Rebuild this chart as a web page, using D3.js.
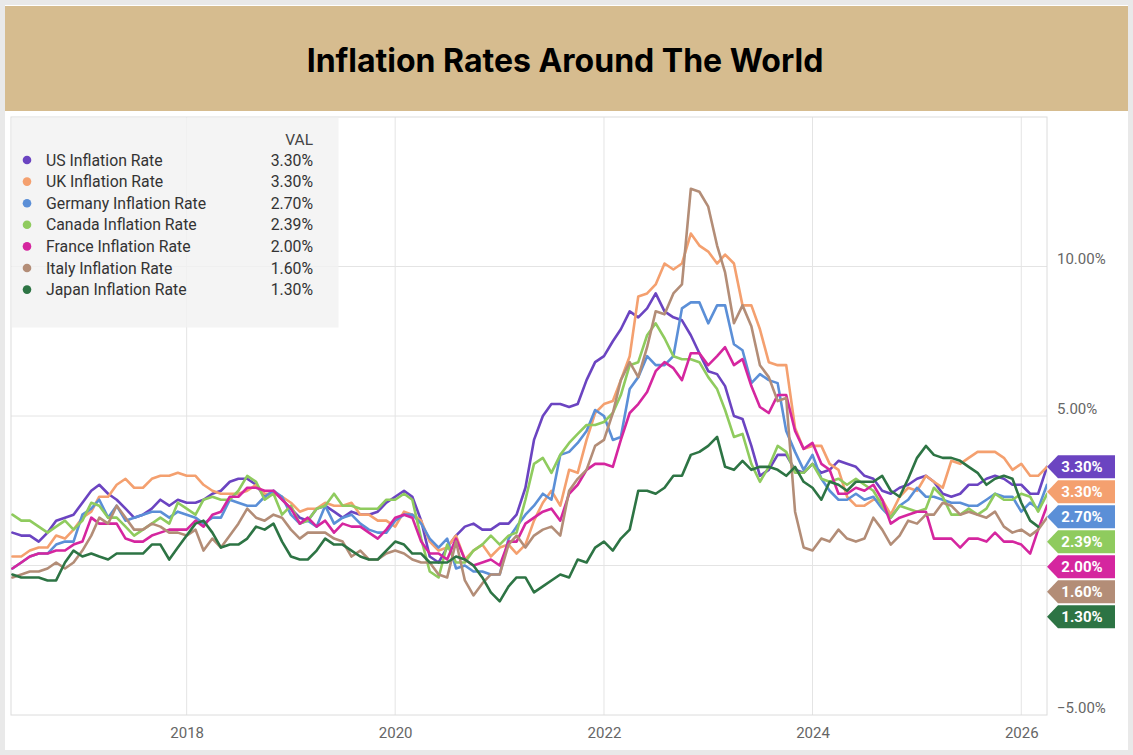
<!DOCTYPE html>
<html>
<head>
<meta charset="utf-8">
<script src="https://cdn.jsdelivr.net/npm/d3@7"></script>
<style>
  html, body { margin: 0; padding: 0; background: #fff; }
  svg { display: block; }
</style>
</head>
<body>
<svg id="chart" width="1133" height="755"></svg>
<script>
// ---------- DATA (monthly YoY %, Apr 2016 .. Mar 2026) ----------
const title = "Inflation Rates Around The World";
const startMonth = new Date(2016, 3, 1);
const endMonth = new Date(2026, 3, 1);
const seriesNames = ["US Inflation Rate", "UK Inflation Rate", "Germany Inflation Rate", "Canada Inflation Rate", "France Inflation Rate", "Italy Inflation Rate", "Japan Inflation Rate"];
const seriesColors = ["#6b44c1", "#f4a06f", "#5b8fd7", "#8fcb5e", "#d5269f", "#b38d77", "#2d7444"];
const xTickYears = [2018, 2020, 2022, 2024, 2026];
const yTickValues = [10, 5, -5];

const usValues = [
  1.1, 1.0, 1.0, 0.8, 1.1, 1.5, 1.6, 1.7, 2.1,
  2.5, 2.7, 2.4, 2.2, 1.9, 1.6, 1.7, 1.9, 2.2, 2.0, 2.2, 2.1,
  2.1, 2.2, 2.4, 2.5, 2.8, 2.9, 2.9, 2.7, 2.3, 2.5, 2.2, 1.9,
  1.6, 1.5, 1.9, 2.0, 1.8, 1.6, 1.8, 1.7, 1.7, 1.8, 2.1, 2.3,
  2.5, 2.3, 1.5, 0.3, 0.1, 0.6, 1.0, 1.3, 1.4, 1.2, 1.2, 1.4,
  1.4, 1.7, 2.6, 4.2, 5.0, 5.4, 5.4, 5.3, 5.4, 6.2, 6.8, 7.0,
  7.5, 7.9, 8.5, 8.3, 8.6, 9.1, 8.5, 8.3, 8.2, 7.7, 7.1, 6.5,
  6.4, 6.0, 5.0, 4.9, 4.0, 3.0, 3.2, 3.7, 3.7, 3.2, 3.1, 3.4,
  3.1, 3.2, 3.5, 3.4, 3.3, 3.0, 2.9, 2.5, 2.4, 2.6, 2.7, 2.9,
  3.0, 2.8, 2.4, 2.3, 2.4, 2.7, 2.7, 2.9, 3.0, 2.9, 2.7, 2.7,
  2.4, 2.4, 3.3
];
const ukValues = [
  0.3, 0.3, 0.5, 0.6, 0.6, 1.0, 0.9, 1.2, 1.6,
  1.8, 2.3, 2.3, 2.7, 2.9, 2.6, 2.6, 2.9, 3.0, 3.0, 3.1, 3.0,
  3.0, 2.7, 2.5, 2.4, 2.4, 2.4, 2.5, 2.7, 2.4, 2.4, 2.3, 2.1,
  1.8, 1.9, 1.9, 2.1, 2.0, 2.0, 2.1, 1.7, 1.7, 1.5, 1.5, 1.3,
  1.8, 1.7, 1.5, 0.8, 0.5, 0.6, 1.0, 0.2, 0.5, 0.7, 0.3, 0.6,
  0.7, 0.4, 0.7, 1.5, 2.1, 2.5, 2.0, 3.2, 3.1, 4.2, 5.1, 5.4,
  5.5, 6.2, 7.0, 9.0, 9.1, 9.4, 10.1, 9.9, 10.1, 11.1, 10.7, 10.5,
  10.1, 10.4, 10.1, 8.7, 8.7, 7.9, 6.8, 6.7, 6.7, 4.6, 3.9, 4.0,
  4.0, 3.4, 3.2, 2.3, 2.0, 2.0, 2.2, 2.2, 1.7, 2.3, 2.6, 2.5,
  3.0, 2.8, 2.6, 3.5, 3.4, 3.6, 3.8, 3.8, 3.8, 3.6, 3.2, 3.4,
  3.0, 3.0, 3.3
];
const germanyValues = [
  -0.1, 0.1, 0.3, 0.4, 0.4, 0.7, 0.8, 0.8, 1.7,
  1.9, 2.2, 1.6, 2.0, 1.5, 1.6, 1.7, 1.8, 1.8, 1.6, 1.8, 1.7,
  1.6, 1.4, 1.6, 1.6, 2.2, 2.1, 2.0, 2.0, 2.3, 2.5, 2.3, 1.7,
  1.4, 1.5, 1.3, 2.0, 1.4, 1.6, 1.7, 1.4, 1.2, 1.1, 1.1, 1.5,
  1.7, 1.7, 1.4, 0.9, 0.6, 0.9, -0.1, 0.0, -0.2, -0.2, -0.3, -0.3,
  0.9, 1.3, 1.7, 2.0, 2.4, 2.2, 3.7, 3.8, 4.1, 4.5, 5.2, 5.0,
  4.2, 4.3, 5.9, 6.3, 7.0, 6.7, 6.7, 7.0, 8.6, 8.8, 8.8, 8.1,
  8.7, 8.7, 7.4, 7.2, 6.1, 6.4, 6.2, 6.1, 4.5, 3.8, 3.2, 3.7,
  2.9, 2.5, 2.2, 2.2, 2.4, 2.2, 2.3, 1.9, 1.6, 2.0, 2.2, 2.6,
  2.3, 2.3, 2.2, 2.1, 2.1, 2.0, 2.0, 2.2, 2.4, 2.3, 2.3, 1.8,
  2.1, 1.9, 2.7
];
const canadaValues = [
  1.7, 1.5, 1.5, 1.3, 1.1, 1.3, 1.5, 1.2, 1.5,
  2.1, 2.0, 1.6, 1.6, 1.3, 1.0, 1.2, 1.4, 1.6, 1.4, 2.1, 1.9,
  1.7, 2.2, 2.3, 2.2, 2.2, 2.5, 3.0, 2.8, 2.2, 2.4, 1.7, 2.0,
  1.4, 1.5, 1.9, 2.0, 2.4, 2.0, 2.0, 1.9, 1.9, 1.9, 2.2, 2.2,
  2.4, 2.2, 0.9, -0.2, -0.4, 0.7, 0.1, 0.1, 0.5, 0.7, 1.0, 0.7,
  1.0, 1.1, 2.2, 3.4, 3.6, 3.1, 3.7, 4.1, 4.4, 4.7, 4.7, 4.8,
  5.1, 5.7, 6.7, 6.8, 7.7, 8.1, 7.6, 7.0, 6.9, 6.9, 6.8, 6.3,
  5.9, 5.2, 4.3, 4.4, 3.4, 2.8, 3.3, 4.0, 3.8, 3.1, 3.1, 3.4,
  2.9, 2.8, 2.9, 2.7, 2.9, 2.7, 2.5, 2.0, 1.6, 2.0, 1.9, 1.8,
  1.9, 2.6, 2.3, 1.7, 1.7, 1.9, 1.7, 1.9, 2.4, 2.2, 2.2, 2.4,
  2.3, 1.8, 2.39
];
const franceValues = [
  -0.1, 0.1, 0.3, 0.4, 0.4, 0.5, 0.5, 0.7, 0.8,
  1.6, 1.4, 1.4, 1.4, 0.9, 0.8, 0.8, 1.0, 1.1, 1.2, 1.2, 1.2,
  1.5, 1.3, 1.7, 1.8, 2.3, 2.3, 2.6, 2.6, 2.5, 2.5, 2.2, 1.9,
  1.4, 1.6, 1.3, 1.5, 1.1, 1.4, 1.3, 1.3, 1.1, 0.9, 1.2, 1.6,
  1.7, 1.6, 0.8, 0.4, 0.4, 0.2, 0.9, 0.2, 0.0, 0.1, 0.2, 0.0,
  0.8, 0.8, 1.4, 1.6, 1.8, 1.9, 1.5, 2.4, 2.7, 3.2, 3.4, 3.4,
  3.3, 4.2, 5.1, 5.4, 5.8, 6.5, 6.8, 6.6, 6.2, 7.1, 7.1, 6.7,
  7.0, 7.3, 6.7, 6.9, 6.0, 5.3, 5.1, 5.7, 5.7, 4.5, 3.9, 4.1,
  3.4, 3.2, 2.4, 2.4, 2.6, 2.5, 2.7, 2.2, 1.4, 1.6, 1.7, 1.8,
  1.8, 0.9, 0.9, 0.9, 0.6, 0.9, 0.9, 0.8, 1.1, 0.8, 0.8, 0.7,
  0.4, 1.2, 2.0
];
const italyValues = [
  -0.4, -0.3, -0.2, -0.2, -0.1, 0.1, -0.1, 0.1, 0.5,
  1.0, 1.6, 1.4, 2.0, 1.6, 1.2, 1.2, 1.4, 1.3, 1.1, 1.1, 1.0,
  1.2, 0.5, 0.9, 0.6, 1.0, 1.4, 1.9, 1.6, 1.5, 1.7, 1.6, 1.2,
  0.9, 1.1, 1.1, 1.1, 0.9, 0.8, 0.3, 0.5, 0.2, 0.2, 0.4, 0.5,
  0.4, 0.2, 0.1, 0.1, -0.3, -0.4, 0.8, -0.5, -1.0, -0.6, -0.3, -0.3,
  0.7, 1.0, 0.6, 1.0, 1.2, 1.3, 1.0, 2.5, 2.9, 3.2, 4.0, 4.2,
  5.1, 6.2, 6.8, 6.3, 7.3, 8.5, 8.4, 9.1, 9.4, 12.6, 12.5, 12.0,
  10.7, 9.8, 8.1, 8.7, 8.0, 6.7, 6.3, 5.5, 5.6, 1.8, 0.6, 0.5,
  0.9, 0.8, 1.2, 0.9, 0.8, 0.9, 1.6, 1.2, 0.7, 1.0, 1.5, 1.4,
  1.7, 1.7, 2.1, 2.0, 1.7, 1.8, 1.7, 1.6, 1.8, 1.3, 1.1, 1.2,
  1.0, 1.2, 1.6
];
const japanValues = [
  -0.3, -0.4, -0.4, -0.4, -0.5, -0.5, 0.1, 0.5, 0.3,
  0.4, 0.3, 0.2, 0.4, 0.4, 0.4, 0.4, 0.7, 0.7, 0.2, 0.6, 1.0,
  1.4, 1.5, 1.1, 0.6, 0.7, 0.7, 0.9, 1.3, 1.2, 1.4, 0.8, 0.3,
  0.2, 0.2, 0.5, 0.9, 0.7, 0.7, 0.5, 0.3, 0.2, 0.2, 0.5, 0.8,
  0.7, 0.4, 0.4, 0.1, 0.1, 0.1, 0.3, 0.2, 0.0, -0.4, -0.9, -1.2,
  -0.7, -0.4, -0.4, -0.9, -0.7, -0.5, -0.3, -0.4, 0.2, 0.1, 0.6, 0.8,
  0.5, 0.9, 1.2, 2.5, 2.5, 2.4, 2.6, 3.0, 3.0, 3.7, 3.8, 4.0,
  4.3, 3.3, 3.2, 3.5, 3.2, 3.3, 3.3, 3.2, 3.0, 3.3, 2.8, 2.6,
  2.2, 2.8, 2.7, 2.5, 2.8, 2.8, 2.8, 3.0, 2.5, 2.3, 2.9, 3.6,
  4.0, 3.7, 3.6, 3.6, 3.5, 3.3, 3.1, 2.7, 2.9, 3.0, 2.9, 2.1,
  1.5, 1.3, null
];
const latestValues = [3.30, 3.30, 2.70, 2.39, 2.00, 1.60, 1.30];
const allValues = [usValues, ukValues, germanyValues, canadaValues, franceValues, italyValues, japanValues];

// ---------- CHART ----------
const W = 1133, H = 755;
const plot = { left: 11, right: 1047, top: 117, bottom: 715 };
const svg = d3.select("#chart");
const FONT = "Roboto, 'Noto Sans', sans-serif";

// outer frame
svg.append("rect").attr("x", 0).attr("y", 0).attr("width", W).attr("height", H).attr("fill", "#e9e9e9");
svg.append("rect").attr("x", 5).attr("y", 5).attr("width", W - 10).attr("height", H - 10).attr("fill", "#ffffff");
// header band
svg.append("rect").attr("x", 5).attr("y", 6).attr("width", W - 10).attr("height", 105).attr("fill", "#d6bc8f");
svg.append("text").attr("x", 565).attr("y", 72).attr("text-anchor", "middle")
  .attr("font-family", "Inter, 'Open Sans', sans-serif").attr("font-weight", 700).attr("font-size", 32)
  .attr("fill", "#000").text(title);

const months = d3.timeMonth.range(startMonth, endMonth);
const dates = months.map(m => d3.timeMonth.offset(m, 1));

const x = d3.scaleTime()
  .domain([new Date(2016, 3, 26), new Date(2026, 3, 1)])
  .range([plot.left, plot.right]);
const y = d3.scaleLinear().domain([-5, 15]).range([plot.bottom, plot.top]);

// gridlines
const grid = svg.append("g");
grid.selectAll("line.v").data(xTickYears).join("line")
  .attr("x1", d => x(new Date(d, 0, 1))).attr("x2", d => x(new Date(d, 0, 1)))
  .attr("y1", plot.top).attr("y2", plot.bottom)
  .attr("stroke", "#e4e4e4").attr("stroke-width", 1);
grid.selectAll("line.h").data([10, 5, 0]).join("line")
  .attr("x1", plot.left).attr("x2", plot.right)
  .attr("y1", d => y(d)).attr("y2", d => y(d))
  .attr("stroke", "#e4e4e4").attr("stroke-width", 1);
svg.append("rect").attr("x", plot.left).attr("y", plot.top)
  .attr("width", plot.right - plot.left).attr("height", plot.bottom - plot.top)
  .attr("fill", "none").attr("stroke", "#dcdcdc").attr("stroke-width", 1);

// x axis labels via d3 axis
const xAxis = d3.axisBottom(x).tickValues(xTickYears.map(yr => new Date(yr, 0, 1)))
  .tickFormat(d3.timeFormat("%Y")).tickSize(0).tickPadding(12);
const gx = svg.append("g").attr("transform", `translate(0,${plot.bottom})`).call(xAxis);
gx.select(".domain").remove();
gx.selectAll("text").attr("font-family", FONT).attr("font-size", 15).attr("fill", "#666");

// y axis labels on right
const yAxis = d3.axisRight(y).tickValues(yTickValues).tickFormat(d => d3.format(".2f")(d) + "%")
  .tickSize(0).tickPadding(10);
const gy = svg.append("g").attr("transform", `translate(${plot.right},0)`).call(yAxis);
gy.select(".domain").remove();
gy.selectAll("text").attr("font-family", FONT).attr("font-size", 15).attr("fill", "#666")
  .attr("dy", "-0.2em");

// clip
svg.append("defs").append("clipPath").attr("id", "clip").append("rect")
  .attr("x", plot.left).attr("y", plot.top).attr("width", plot.right - plot.left).attr("height", plot.bottom - plot.top);

const line = d3.line()
  .defined(d => d.v !== null)
  .x(d => x(d.date)).y(d => y(d.v));

const linesG = svg.append("g").attr("clip-path", "url(#clip)");
allValues.forEach((vals, i) => {
  const pts = vals.map((v, j) => ({ date: dates[j], v: v }));
  linesG.append("path").datum(pts)
    .attr("d", line).attr("fill", "none")
    .attr("stroke", seriesColors[i]).attr("stroke-width", 2.6)
    .attr("stroke-linejoin", "round").attr("stroke-linecap", "round");
});

// legend
const lg = svg.append("g");
lg.append("rect").attr("x", plot.left + 0.5).attr("y", plot.top + 0.5).attr("width", 327).attr("height", 210)
  .attr("fill", "#f2f2f2").attr("fill-opacity", 0.82);
lg.append("text").attr("x", 313).attr("y", 145).attr("text-anchor", "end")
  .attr("font-family", FONT).attr("font-size", 15.5).attr("fill", "#444").text("VAL");
seriesNames.forEach((name, i) => {
  const cy = 160 + i * 21.6;
  lg.append("circle").attr("cx", 27).attr("cy", cy).attr("r", 4.3).attr("fill", seriesColors[i]);
  lg.append("text").attr("x", 46).attr("y", cy + 5.5)
    .attr("font-family", FONT).attr("font-size", 15.8).attr("fill", "#333").text(name);
  lg.append("text").attr("x", 313).attr("y", cy + 5.5).attr("text-anchor", "end")
    .attr("font-family", FONT).attr("font-size", 15.8).attr("fill", "#333")
    .text(d3.format(".2f")(latestValues[i]) + "%");
});

// value tags on right, stacked to avoid overlap
const tagH = 23, tagGap = 2;
const order = d3.range(latestValues.length).sort((a, b) => latestValues[b] - latestValues[a]);
let prev = -Infinity;
const tagY = {};
order.forEach(i => {
  let cy = y(latestValues[i]);
  if (cy < prev + tagH + tagGap) cy = prev + tagH + tagGap;
  tagY[i] = cy; prev = cy;
});
const tags = svg.append("g");
order.forEach(i => {
  const cy = tagY[i];
  const x0 = plot.right, x1 = plot.right + 11, x2 = 1115;
  tags.append("path")
    .attr("d", `M${x0},${cy} L${x1},${cy - tagH / 2} L${x2},${cy - tagH / 2} L${x2},${cy + tagH / 2} L${x1},${cy + tagH / 2} Z`)
    .attr("fill", seriesColors[i]);
  tags.append("text").attr("x", 1082).attr("y", cy + 5.5).attr("text-anchor", "middle")
    .attr("font-family", FONT).attr("font-weight", 700).attr("font-size", 15)
    .attr("fill", "#fff").text(d3.format(".2f")(latestValues[i]) + "%");
});
</script>
</body>
</html>
